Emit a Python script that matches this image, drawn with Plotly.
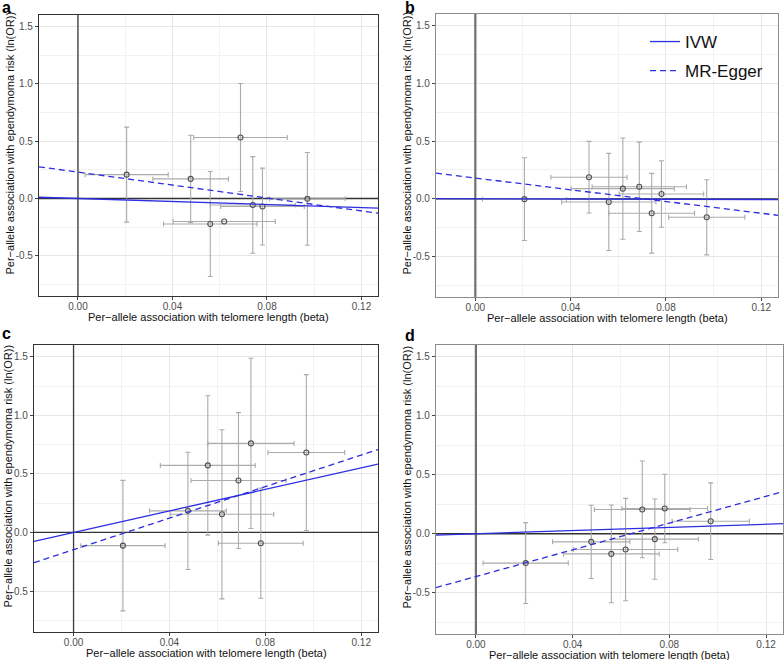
import plotly.graph_objects as go

# ---- data ----
panel_labels = ["a", "b", "c", "d"]
beta_tl = [0.0206, 0.0477, 0.0560, 0.0619, 0.0688, 0.0740, 0.0781, 0.0971]
tl_ci = [0.0176, 0.0160, 0.0198, 0.0216, 0.0198, 0.0180, 0.0177, 0.0160]

y_a = [0.208, 0.171, -0.222, -0.200, 0.532, -0.056, -0.070, -0.003]
ci_a = [0.414, 0.381, 0.458, None, 0.471, 0.421, 0.335, 0.404]

y_b = [-0.003, 0.187, -0.027, 0.088, 0.104, -0.125, 0.042, -0.160]
ci_b = [0.358, 0.310, 0.420, 0.438, 0.387, 0.345, 0.288, 0.325]

y_c = [-0.113, 0.184, 0.572, 0.155, 0.443, 0.760, -0.092, 0.682]
ci_c = [0.557, 0.501, 0.595, 0.722, 0.580, 0.727, 0.470, 0.665]

y_d = [-0.249, -0.069, -0.171, -0.134, 0.206, -0.046, 0.214, 0.106]
ci_d = [0.343, 0.310, 0.414, 0.434, 0.410, 0.340, 0.290, 0.325]

ivw_slope = [-0.66, -0.05, 4.59, 0.67]
egger_slope = [-2.82, -2.54, 6.73, 5.67]
egger_intercept = [0.23, 0.18, -0.147, -0.363]

x_tickvals = [0.0, 0.04, 0.08, 0.12]
x_ticktext = ["0.00", "0.04", "0.08", "0.12"]
y_tickvals = [-0.5, 0.0, 0.5, 1.0, 1.5]
y_ticktext = ["-0.5", "0.0", "0.5", "1.0", "1.5"]

x_title = "Per\u2212allele association with telomere length (beta)"
y_title = "Per\u2212allele association with ependymoma risk (ln(OR))"

# ---- layout geometry ----
W, H = 784, 660
x_range = [-0.0165, 0.127]
y_range = [-0.85, 1.60]
# pixel boxes of each panel: (left, right, top, bottom)
boxes = [(39, 378, 15, 296), (436, 778, 14, 297), (34, 378, 345, 632), (436, 783, 345, 634)]
border_col = ["#333333", "#8c8c8c", "#333333", "#8c8c8c"]
vline_style = [("#3a3a3a", 1.3), ("#707070", 2.2), ("#3a3a3a", 1.3), ("#707070", 2.2)]
ytitle_x = [9, 406, 7, 406]
letter_pos = [(0, 8), (403, 8), (0, 333), (403, 336)]

ys = [y_a, y_b, y_c, y_d]
cis = [ci_a, ci_b, ci_c, ci_d]

blue = "rgb(45,45,225)"
font = "Liberation Sans, Arial, sans-serif"

fig = go.Figure()
annotations = []

for i in range(4):
    sfx = "" if i == 0 else str(i + 1)
    xa, ya = "x" + sfx, "y" + sfx
    vc, vw = vline_style[i]
    # reference lines at x = 0 and y = 0
    fig.add_trace(go.Scatter(x=[0, 0], y=y_range, mode="lines", xaxis=xa, yaxis=ya,
                             line=dict(color=vc, width=vw), showlegend=False, hoverinfo="skip"))
    fig.add_trace(go.Scatter(x=x_range, y=[0, 0], mode="lines", xaxis=xa, yaxis=ya,
                             line=dict(color="#333333", width=1.3), showlegend=False,
                             hoverinfo="skip"))
    # points with error bars
    fig.add_trace(go.Scatter(
        x=beta_tl, y=ys[i], mode="markers", xaxis=xa, yaxis=ya, showlegend=False,
        marker=dict(symbol="circle-open", size=5, color="#505050", line=dict(width=1.1)),
        error_x=dict(type="data", array=tl_ci, color="#ababab", thickness=1.1, width=2.5),
        error_y=dict(type="data", array=cis[i], color="#ababab", thickness=1.1, width=2.5),
        hoverinfo="skip",
    ))
    xs = x_range
    fig.add_trace(go.Scatter(
        x=xs, y=[ivw_slope[i] * v for v in xs], mode="lines", xaxis=xa, yaxis=ya,
        line=dict(color=blue, width=1.3), name="IVW", legendgroup="ivw",
        showlegend=(i == 1),
    ))
    fig.add_trace(go.Scatter(
        x=xs, y=[egger_intercept[i] + egger_slope[i] * v for v in xs], mode="lines",
        xaxis=xa, yaxis=ya, line=dict(color=blue, width=1.3, dash="6px,4px"),
        name="MR-Egger", legendgroup="egger", showlegend=(i == 1),
    ))

    l, r, t, b = boxes[i]
    xdom = [l / W, r / W]
    ydom = [1 - b / H, 1 - t / H]
    common = dict(showgrid=True, gridcolor="#e6e6e6", gridwidth=1, zeroline=False,
                  showline=True, mirror=True, linewidth=1.1, linecolor=border_col[i],
                  ticks="outside", ticklen=3, tickcolor="#444444", tickwidth=1,
                  tickfont=dict(family=font, size=10, color="#4d4d4d"))
    fig.update_layout(**{
        "xaxis" + sfx: dict(domain=xdom, range=x_range, anchor=ya,
                            tickmode="array", tickvals=x_tickvals, ticktext=x_ticktext,
                            ticklabelstandoff=-2,
                            minor=dict(dtick=0.02, tick0=0, showgrid=True, gridcolor="#f2f2f2",
                                       gridwidth=0.8, ticks=""),
                            **common),
        "yaxis" + sfx: dict(domain=ydom, range=y_range, anchor=xa,
                            tickmode="array", tickvals=y_tickvals, ticktext=y_ticktext,
                            minor=dict(dtick=0.25, tick0=0, showgrid=True, gridcolor="#f2f2f2",
                                       gridwidth=0.8, ticks=""),
                            **common),
    })
    # axis titles
    annotations.append(dict(text=x_title, xref="paper", yref="paper",
                            x=(l + r) / 2 / W, y=1 - (b + 21) / H, xanchor="center",
                            yanchor="middle", showarrow=False,
                            font=dict(family=font, size=11, color="#111111")))
    annotations.append(dict(text=y_title, xref="paper", yref="paper",
                            x=ytitle_x[i] / W, y=1 - ((t + b) / 2 - 12) / H, xanchor="center",
                            yanchor="middle", textangle=-90, showarrow=False,
                            font=dict(family=font, size=11, color="#111111")))
    lx, ly = letter_pos[i]
    annotations.append(dict(text="<b>%s</b>" % panel_labels[i], xref="paper", yref="paper",
                            x=lx / W, y=1 - ly / H, xanchor="left", yanchor="middle",
                            showarrow=False, font=dict(family=font, size=16, color="#000000")))

fig.update_layout(
    width=W, height=H, margin=dict(l=0, r=0, t=0, b=0),
    paper_bgcolor="white", plot_bgcolor="white",
    annotations=annotations,
    legend=dict(x=645 / W, y=1 - 24 / H, xanchor="left", yanchor="top",
                bgcolor="rgba(255,255,255,0)", tracegroupgap=4,
                font=dict(family=font, size=17, color="#111111")),
    showlegend=True,
)

fig.write_html("out.html", config={"displayModeBar": False},
               post_script="document.body.style.margin='0px';document.body.style.overflow='hidden';")
